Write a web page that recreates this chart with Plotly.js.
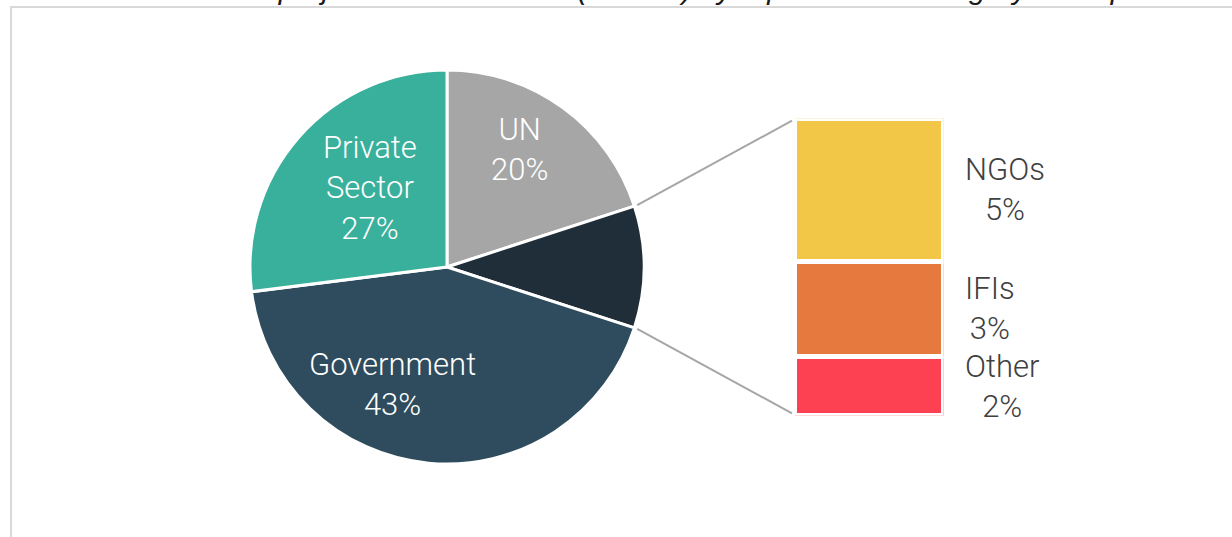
<!DOCTYPE html>
<html>
<head>
<meta charset="utf-8">
<script src="https://cdn.plot.ly/plotly-3.0.1.min.js"></script>
<style>html,body{margin:0;padding:0;background:#fff;}#chart{width:1232px;height:537px;}</style>
</head>
<body>
<div id="chart"></div>
<script>
// ---- data ----
const titleText = 'Share of the total project cost estimates (in USD) by reporter and category for implementers';
const pieCategories = ['UN', 'Other categories', 'Government', 'Private Sector'];
const pieDisplay = ['UN', '', 'Government', 'Private<br>Sector'];
const pieMainValues = [20, null, 43, 27];          // null = the group broken out in the bar
const barCategories = ['Other', 'IFIs', 'NGOs'];   // bottom to top
const barValues = [2.0, 3.2, 4.8];

// ---- styles ----
const pieColors = ['#a6a6a6', '#1f2e39', '#2e4c5d', '#39b09c'];
const barColors = ['#fd4052', '#e67a3e', '#f2c646'];
// label placement (style): angle offset in degrees from slice middle, radius fraction
const pieLabelAngleShift = [-4.4, 0, 19.6, 4.3];
const pieLabelRadius = [0.70, 0, 0.66, 0.56];
const W = 1232, H = 537;

const groupTotal = barValues.reduce((a, b) => a + b, 0);
const pieValues = pieMainValues.map(v => v === null ? groupTotal : v);
const pieTotal = pieValues.reduce((a, b) => a + b, 0);

// pie geometry (pixels)
const pieCx = 447, pieCy = 267, pieR = 197;
const pieDomX = [(pieCx - pieR) / W, (pieCx + pieR) / W];
const pieDomY = [1 - (pieCy + pieR) / H, 1 - (pieCy - pieR) / H];

// bar geometry (pixels)
const lineW = 5;
const barLeft = 797, barRight = 941, barTop = 120.7, barBottom = 413.3;
const xDom = [(barLeft - lineW / 2) / W, (barRight + lineW / 2) / W];
const yDom = [1 - (barBottom + lineW / 2) / H, 1 - (barTop - lineW / 2) / H];

const pieTrace = {
  type: 'pie',
  values: pieValues,
  labels: pieCategories,
  textinfo: 'none',
  sort: false,
  direction: 'clockwise',
  rotation: 0,
  marker: { colors: pieColors, line: { color: '#ffffff', width: 3 } },
  domain: { x: pieDomX, y: pieDomY },
  hoverinfo: 'none'
};

const barTraces = barCategories.map((c, i) => ({
  type: 'bar',
  x: [0],
  y: [barValues[i]],
  name: c,
  width: 1,
  marker: { color: barColors[i], line: { color: '#ffffff', width: lineW } },
  hoverinfo: 'none'
}));

function piePoint(frac, rr) {
  const a = frac * 2 * Math.PI;
  return [pieCx + rr * Math.sin(a), pieCy - rr * Math.cos(a)];
}
const yPix = v => barBottom - (v / groupTotal) * (barBottom - barTop);

// connector lines computed from the data
const startFrac = pieValues[0] / pieTotal;
const endFrac = (pieValues[0] + pieValues[1]) / pieTotal;
const p1 = piePoint(startFrac, pieR + 3);
const p2 = piePoint(endFrac, pieR + 3);
const connEndX = barLeft - 5;
const shapes = [
  { type: 'line', xref: 'paper', yref: 'paper', x0: p1[0] / W, y0: 1 - p1[1] / H, x1: connEndX / W, y1: 1 - yPix(groupTotal) / H, line: { color: '#a6a6a6', width: 2 } },
  { type: 'line', xref: 'paper', yref: 'paper', x0: p2[0] / W, y0: 1 - p2[1] / H, x1: connEndX / W, y1: 1 - yPix(0) / H, line: { color: '#a6a6a6', width: 2 } },
  { type: 'rect', xref: 'paper', yref: 'paper', x0: 11 / W, x1: 1.05, y0: -0.05, y1: 1 - 7 / H, line: { color: '#d9d9d9', width: 2 }, layer: 'below' }
];

const annotations = [];
// pie labels at each slice (angle from data)
let accP = 0;
pieValues.forEach((v, i) => {
  const midFrac = (accP + v / 2) / pieTotal;
  accP += v;
  if (!pieDisplay[i]) return;
  const pt = piePoint(midFrac + pieLabelAngleShift[i] / 360, pieR * pieLabelRadius[i]);
  annotations.push({
    xref: 'paper', yref: 'paper', x: pt[0] / W, y: 1 - pt[1] / H,
    xanchor: 'center', yanchor: 'middle',
    text: pieDisplay[i] + '<br>' + Math.round(v / pieTotal * 100) + '%',
    align: 'center', showarrow: false,
    font: { family: 'Roboto', size: 31, color: '#ffffff', weight: 300 }
  });
});

// bar labels at segment centres
let cum = 0;
barCategories.forEach((c, i) => {
  const mid = cum + barValues[i] / 2;
  cum += barValues[i];
  annotations.push({
    xref: 'x', yref: 'y', x: 0.5, y: mid,
    xanchor: 'left', yanchor: 'middle', xshift: 17 + lineW / 2,
    text: c + '<br>' + Math.round(barValues[i]) + '%',
    align: 'center', showarrow: false,
    font: { family: 'Roboto', size: 31, color: '#404040', weight: 300 }
  });
});
annotations.push({
  xref: 'paper', yref: 'paper', x: 40 / W, y: 1 - 7 / H, xanchor: 'left', yanchor: 'bottom',
  text: '<i>' + titleText + '</i>', showarrow: false,
  font: { family: 'Liberation Sans', size: 30, color: '#1a1a1a' }
});

const layout = {
  width: W, height: H,
  margin: { l: 0, r: 0, t: 0, b: 0 },
  paper_bgcolor: '#ffffff', plot_bgcolor: 'rgba(0,0,0,0)',
  showlegend: false,
  barmode: 'stack', bargap: 0,
  xaxis: { domain: xDom, range: [-0.5, 0.5], visible: false, fixedrange: true },
  yaxis: { domain: yDom, range: [0, groupTotal], visible: false, fixedrange: true },
  shapes: shapes,
  annotations: annotations
};

Plotly.newPlot('chart', [pieTrace].concat(barTraces), layout, { displayModeBar: false, staticPlot: true });
</script>
</body>
</html>
